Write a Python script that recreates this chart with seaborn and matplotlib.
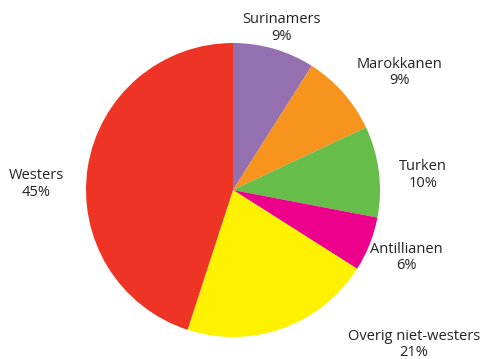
import matplotlib
matplotlib.use("Agg")
import matplotlib.pyplot as plt
import seaborn as sns

groups = ["Surinamers", "Marokkanen", "Turken", "Antillianen", "Overig niet-westers", "Westers"]
shares = [9, 9, 10, 6, 21, 45]
colors = ["#9470b0", "#f7941e", "#66bd4a", "#ec008c", "#fff200", "#ee3424"]

# label positions in units of the pie radius (placed by hand like the original)
label_pos = [(0.33, 1.10), (1.13, 0.80), (1.29, 0.10), (1.18, -0.46), (1.23, -1.05), (-1.34, 0.04)]

sns.set_style("white")
plt.rcParams["font.family"] = ["Open Sans", "DejaVu Sans"]

fig = plt.figure(figsize=(4.81, 3.59), dpi=100)
ax = fig.add_axes([0, 0, 1, 1])
ax.pie(shares, colors=colors, startangle=90, counterclock=False,
       wedgeprops=dict(linewidth=0))
for g, s, (x, y) in zip(groups, shares, label_pos):
    ax.text(x, y, f"{g}\n{s}%", ha="center", va="center", fontsize=10.5,
            color="#222222", linespacing=1.15)

ax.set_xlim(-233 / 147, (481 - 233) / 147)
ax.set_ylim(-(359 - 190) / 147, 190 / 147)
ax.axis("off")
fig.savefig("out.png", dpi=100)
